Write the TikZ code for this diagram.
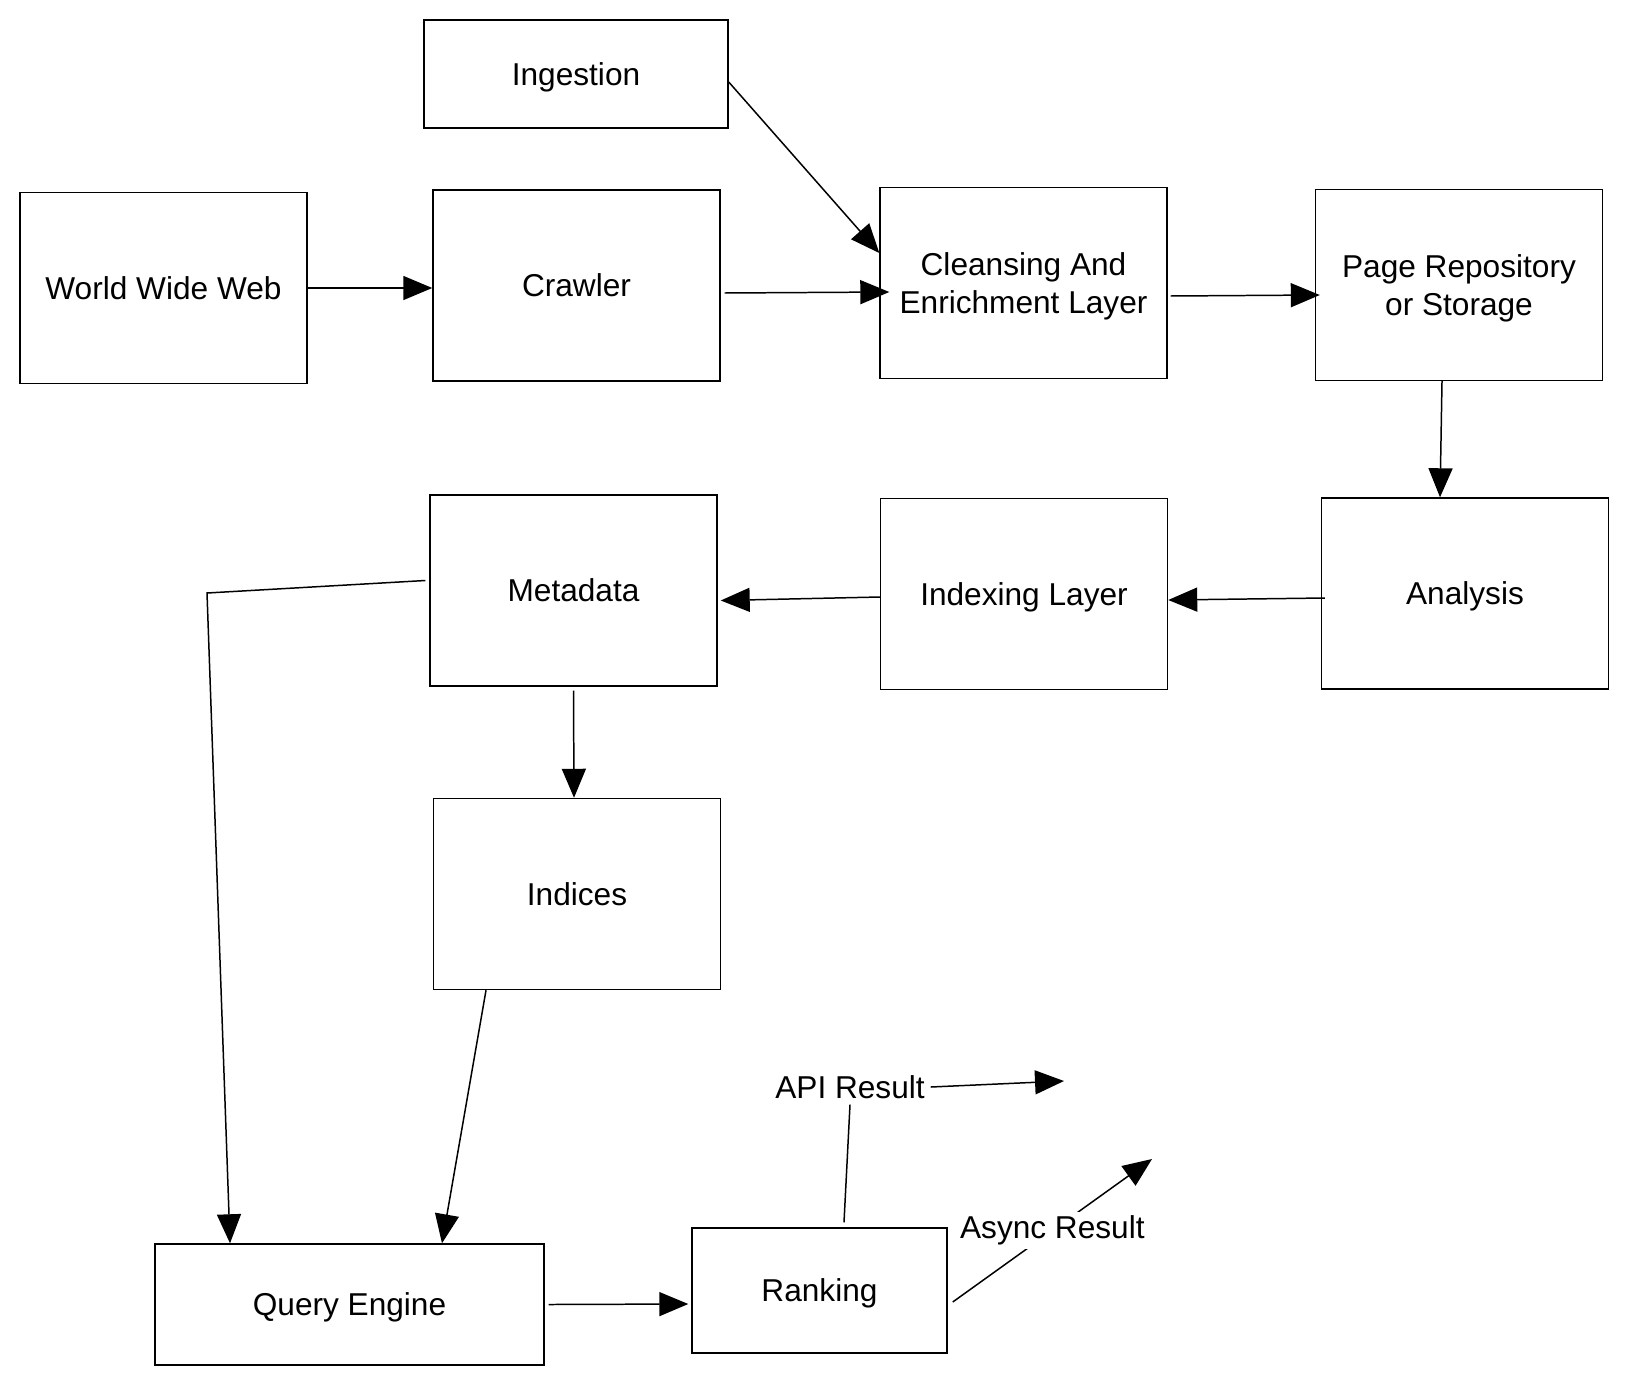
\documentclass[tikz,border=0pt]{standalone}
\usepackage{fontspec}
\setmainfont{Liberation Sans}
\usetikzlibrary{arrows.meta}

\begin{document}
\begin{tikzpicture}[x=0.02cm,y=-0.02cm,font=\fontsize{18}{22}\selectfont,line width=0.85pt,
  blk/.style={draw,minimum width=5.74cm,minimum height=3.82cm,align=center,inner sep=2pt,text depth=0pt},
  arr/.style={-{Triangle[length=0.58cm,width=0.48cm]}}]
\useasboundingbox (0,0) rectangle (1628,1386);
\node[blk,minimum width=6.08cm,minimum height=2.16cm] (ingest) at (576,74) {Ingestion};
\node[blk] (www) at (163.5,288) {World Wide Web};
\node[blk] (crawler) at (576.5,285.5) {Crawler};
\node[blk] (cleanse) at (1023.5,283) {Cleansing And\\Enrichment Layer};
\node[blk] (repo) at (1459,285) {Page Repository\\or Storage};
\node[blk] (analysis) at (1465,593.5) {Analysis};
\node[blk] (indexing) at (1024,594) {Indexing Layer};
\node[blk] (meta) at (573.5,590.5) {Metadata};
\node[blk] (indices) at (577,894) {Indices};
\node[blk,minimum width=7.78cm,minimum height=2.42cm] (query) at (349.5,1304.5) {Query Engine};
\node[blk,minimum width=5.1cm,minimum height=2.5cm] (rank) at (819.5,1290.5) {Ranking};
\node[inner sep=3pt] (api) at (850,1087) {API Result};
\coordinate (apiout) at (1064,1081);
\coordinate (asyncout) at (1152,1159);
\coordinate (bend) at (207,593);
\draw[arr] (www.east) -- (www.east -| crawler.west);
\draw[arr] ([shift={(0.08cm,-0.15cm)}]crawler.east) -- ([shift={(0.2cm,-0.18cm)}]cleanse.west);
\draw[arr] ([yshift=-0.16cm]ingest.east) -- ([yshift=0.6cm]cleanse.west);
\draw[arr] ([shift={(0.06cm,-0.26cm)}]cleanse.east) -- ([shift={(0.1cm,-0.2cm)}]repo.west);
\draw[arr] ([xshift=-0.34cm]repo.south) -- ([xshift=-0.5cm]analysis.north);
\draw[arr] ([shift={(0.08cm,-0.09cm)}]analysis.west) -- ([yshift=-0.12cm]indexing.east);
\draw[arr] ([yshift=-0.06cm]indexing.west) -- ([shift={(0.06cm,-0.2cm)}]meta.east);
\draw[arr] ([yshift=-0.08cm]meta.south) -- ([xshift=-0.06cm]indices.north);
\draw[arr] ([shift={(-0.08cm,0.2cm)}]meta.west) -- (bend) -- ([xshift=-2.39cm]query.north);
\draw[arr] ([xshift=-1.82cm]indices.south) -- ([xshift=1.85cm]query.north);
\draw[arr] ([xshift=0.08cm]query.east) -- ([shift={(-0.06cm,-0.27cm)}]rank.west);
\draw ([shift={(0.49cm,0.1cm)}]rank.north) -- (api.south);
\draw[arr] (api.east) -- (apiout);
\draw[arr] ([shift={(0.1cm,-0.23cm)}]rank.east) -- (asyncout) node[midway,fill=white,inner sep=2pt] (async) {Async Result};
\end{tikzpicture}
\end{document}
